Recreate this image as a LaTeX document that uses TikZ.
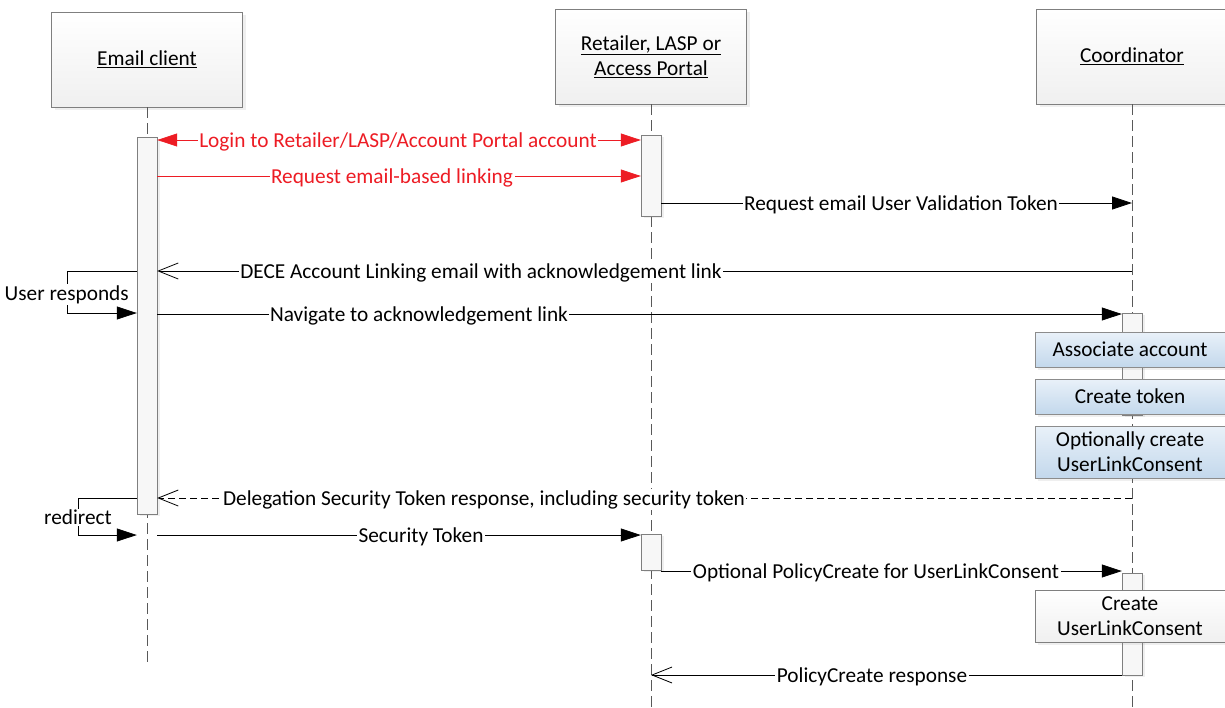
\documentclass[tikz,border=0pt]{standalone}
\usepackage{fontspec}
\setmainfont{Carlito}
\usepackage{xcolor}
\usetikzlibrary{arrows.meta,positioning,calc,shadows}

\definecolor{msgred}{HTML}{ED1C24}
\definecolor{boxline}{HTML}{7F7F7F}
\definecolor{stepline}{HTML}{8C8C8C}
\definecolor{steptop}{HTML}{E9F1F9}
\definecolor{stepbot}{HTML}{C3D8EC}

\tikzset{
  actor/.style={draw=boxline, top color=white, bottom color=gray!12, minimum width=191pt, minimum height=95pt, align=center, inner sep=0pt,
    drop shadow={shadow xshift=3pt, shadow yshift=-3pt, opacity=0.12}},
  actbar/.style={draw=boxline, fill=gray!6, minimum width=20pt, inner sep=0pt, anchor=north,
    drop shadow={shadow xshift=3pt, shadow yshift=-2pt, opacity=0.12}},
  stepbox/.style={draw=stepline, top color=steptop, bottom color=stepbot, minimum width=190pt, align=center, inner sep=0pt,
    drop shadow={shadow xshift=3pt, shadow yshift=-3pt, opacity=0.12}},
  lifeline/.style={draw=gray!70!black, dash pattern=on 11pt off 5pt, line width=0.8pt},
  msg/.style={line width=0.8pt, -{Triangle[length=20pt,width=13pt]}},
  redmsg/.style={msg, draw=msgred, -{Triangle[length=20pt,width=13pt,fill=msgred]}},
  reply/.style={line width=0.8pt, -{Straight Barb[length=20pt,width=16pt,line width=0.8pt]}},
  lbl/.style={fill=white, inner sep=1.5pt, yshift=-1.5pt},
}

\begin{document}
\begin{tikzpicture}[x=1pt,y=-1pt, font=\fontsize{21.3}{25}\selectfont]
\clip (0,0) rectangle (1225,707);
\fill[white] (0,0) rectangle (1225,707);

% lifeline heads
\node[actor] (email) at (147,59.5) {\underline{Email client}};
\node[actor] (retail) at (651,56.5) {\underline{Retailer, LASP or}\\\underline{Access Portal}};
\node[actor] (coord) at (1132,56.5) {\underline{Coordinator}};

% lifelines
\draw[lifeline] (email.south) -- (147,665);
\draw[lifeline] (retail.south) -- (651,707);
\draw[lifeline] (coord.south) -- (1132,707);

% activation bars
\node[actbar, minimum height=377pt] (actE) at (147,137) {};
\node[actbar, minimum height=81pt] (actR1) at (651,135) {};
\node[actbar, minimum height=36pt] (actR2) at (651,534) {};
\node[actbar, minimum height=102pt] (actC1) at (1132,313) {};
\node[actbar, minimum height=102pt] (actC2) at (1132,573) {};

% internal steps of the coordinator
\node[stepbox, minimum height=35pt] (assoc) at (1130,349.5) {Associate account};
\node[stepbox, minimum height=35pt] (token) at (1130,396.5) {Create token};
\node[stepbox, minimum height=52pt] (optul) at (1130,452) {Optionally create\\UserLinkConsent};
\node[actor, minimum width=190pt, minimum height=52pt] (mkul) at (1130,616) {Create\\UserLinkConsent};

% messages
\draw[redmsg, {Triangle[length=20pt,width=13pt,fill=msgred]}-{Triangle[length=20pt,width=13pt,fill=msgred]}] (actE.east |- 0,140) -- (actR1.west |- 0,140);
\node[lbl, text=msgred] (m1) at (398,140) {Login to Retailer/LASP/Account Portal account};
\draw[redmsg] (actE.east |- 0,176) -- (actR1.west |- 0,176);
\node[lbl, text=msgred] (m2) at (392,176) {Request email-based linking};
\draw[msg] (actR1.east |- 0,203) -- (coord.south |- 0,203);
\node[lbl] (m3) at (901,203) {Request email User Validation Token};
\draw[reply] (coord.south |- 0,271) -- (actE.east |- 0,271);
\node[lbl] (m4) at (481,271) {DECE Account Linking email with acknowledgement link};

% self message: user responds
\coordinate (u1) at (67,271);
\coordinate (u2) at (67,313);
\draw[msg] (actE.west |- u1) -- (u1) -- (u2) -- (actE.west |- u2);
\node[lbl, anchor=west] (ur) at (3,293) {User responds};

\draw[msg] (actE.east |- 0,314) -- (actC1.west |- 0,314);
\node[lbl] (m5) at (419,314) {Navigate to acknowledgement link};
\draw[reply, dash pattern=on 7pt off 4pt] (coord.south |- 0,498) -- (actE.east |- 0,498);
\node[lbl] (m6) at (484,498) {Delegation Security Token response, including security token};

% self message: redirect
\coordinate (r1) at (78,498);
\coordinate (r2) at (78,535);
\draw[msg] (actE.west |- r1) -- (r1) -- (r2) -- (actE.west |- r2);
\node[lbl] (rd) at (78,516) {redirect};

\draw[msg] (actE.east |- 0,535) -- (actR2.west |- 0,535);
\node[lbl] (m7) at (421,535) {Security Token};
\draw[msg] (actR2.east |- 0,571) -- (actC2.west |- 0,571);
\node[lbl] (m8) at (876,571) {Optional PolicyCreate for UserLinkConsent};
\draw[reply] (actC2.west |- 0,675) -- (retail.south |- 0,675);
\node[lbl] (m9) at (872,675) {PolicyCreate response};
\end{tikzpicture}
\end{document}
